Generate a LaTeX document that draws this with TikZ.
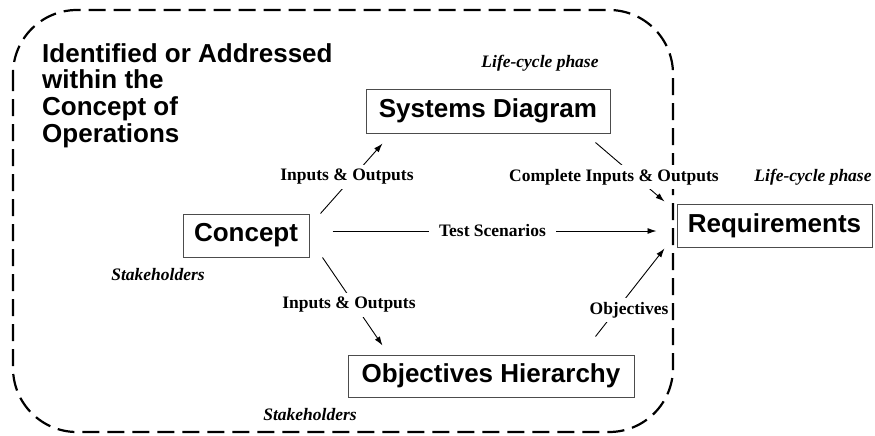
\documentclass[tikz,border=0pt]{standalone}
\usepackage{fontspec}
\setmainfont{Liberation Serif}
\setsansfont{Liberation Sans}
\usetikzlibrary{arrows.meta}

\tikzset{
  phasebox/.style={draw=black!70, line width=1pt, inner sep=0pt, fill=white,
    font=\sffamily\bfseries\fontsize{26}{28}\selectfont},
  flowlabel/.style={fill=white, inner xsep=2pt, inner ysep=4pt,
    font=\bfseries\fontsize{17.5}{19}\selectfont},
  notelabel/.style={inner sep=0pt, font=\bfseries\itshape\fontsize{17.5}{19}\selectfont},
  flow/.style={line width=0.9pt, -{Latex[length=9pt,width=6pt]}},
  scopeline/.style={line width=2.2pt, dash pattern=on 17pt off 8pt, rounded corners=64pt}
}

\begin{document}
\begin{tikzpicture}[x=1pt, y=-1pt]
\useasboundingbox (0,0) rectangle (875,436);

% scope of the concept of operations
\draw[scopeline] (13,10) rectangle (673,432);

% title of the scope
\node[anchor=north west, inner sep=0pt, align=left,
      font=\sffamily\bfseries\fontsize{26}{26.7}\selectfont] (title) at (42,43)
  {Identified or Addressed\\within the\\Concept of\\Operations};

% phase boxes
\node[phasebox, minimum width=244pt, minimum height=44pt] (sys) at (488,111) {Systems Diagram};
\node[phasebox, minimum width=126pt, minimum height=43pt] (concept) at (246,235.5) {Concept};
\node[phasebox, minimum width=195pt, minimum height=43pt] (req) at (774.5,225.5) {Requirements};
\node[phasebox, minimum width=286pt, minimum height=42pt] (obj) at (491,376) {Objectives Hierarchy};

% connectors
\draw[flow] ([xshift=11pt]concept.north east) -- ([xshift=17pt,yshift=-10pt]sys.south west);
\draw[flow] ([xshift=13pt]concept.south east) -- ([xshift=35pt,yshift=9pt]obj.north west);
\draw[flow] ([xshift=23pt,yshift=4.5pt]concept.east) -- ([xshift=-20pt,yshift=-5.5pt]req.west);
\draw[flow] ([xshift=-15pt,yshift=-9pt]sys.south east) -- ([xshift=-12pt,yshift=2pt]req.north west);
\draw[flow] ([xshift=-39pt,yshift=18pt]obj.north east) -- ([xshift=-12pt,yshift=-1pt]req.south west);

% connector labels
\node[flowlabel] (io1) at (347,177) {Inputs \& Outputs};
\node[flowlabel] (io2) at (349,305) {Inputs \& Outputs};
\node[flowlabel] (cio) at (614,177) {Complete Inputs \& Outputs};
\node[flowlabel, inner xsep=10pt] (ts) at (492.5,231) {Test Scenarios};
\node[flowlabel] (objl) at (629,310) {Objectives};

% annotations
\node[notelabel] (lc1) at (540,63) {Life-cycle phase};
\node[notelabel] (lc2) at (813,177) {Life-cycle phase};
\node[notelabel] (sh1) at (158,275) {Stakeholders};
\node[notelabel] (sh2) at (310,415) {Stakeholders};
\end{tikzpicture}
\end{document}
